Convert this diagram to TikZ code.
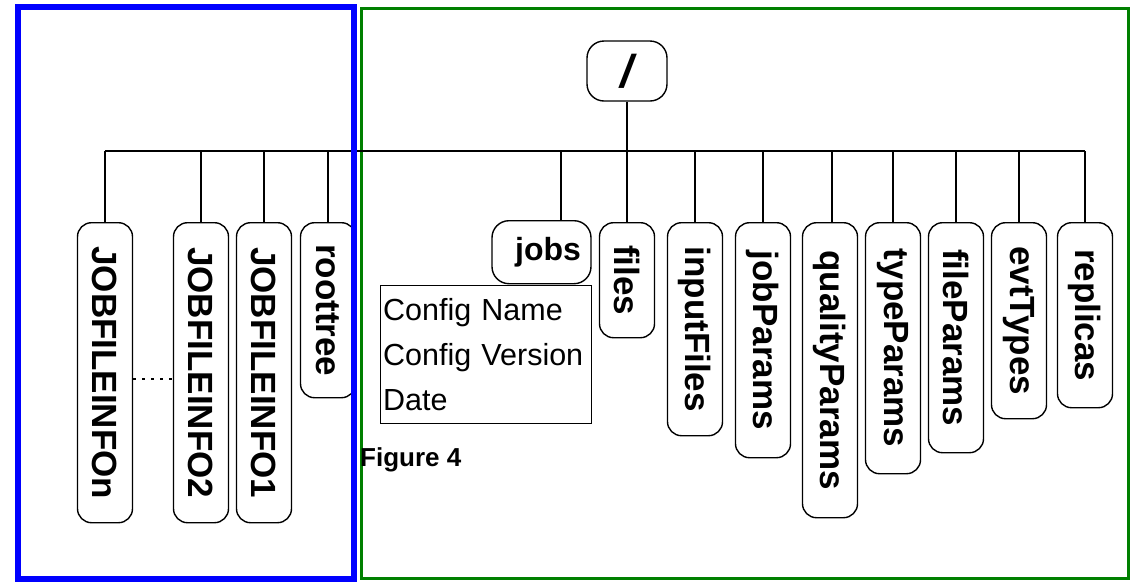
\documentclass[tikz,border=0pt]{standalone}
\usepackage{fontspec}
\setmainfont{Liberation Sans}
\begin{document}
\begin{tikzpicture}[x=1pt,y=-1pt,
  wire/.style={line width=1.5pt,black},
  leaf/.style={draw,line width=1.4pt,rounded corners=14pt,minimum width=55pt,
    inner sep=0pt,anchor=north,font=\fontsize{35}{40}\selectfont\bfseries},
  rootbox/.style={draw,line width=1.4pt,rounded corners=17pt,minimum width=80pt,
    minimum height=60pt,inner sep=0pt,font=\fontsize{46}{50}\selectfont\bfseries},
  infobox/.style={draw,line width=1.3pt,text width=206pt,minimum height=138pt,
    inner xsep=2.5pt,inner ysep=0pt,align=left,font=\fontsize{30.5}{45}\selectfont},
]
\useasboundingbox (0,0) rectangle (1135,582);
\fill[white] (0,0) rectangle (1135,582);

% green frame round the directory tree
\draw[line width=3pt,draw={rgb,255:red,0;green,128;blue,0}] (361.5,8) rectangle (1128.5,578.5);

% root of the tree
\node[rootbox] (root) at (627,71) {\raisebox{-4pt}{\itshape /}};

% children of the root
\newcommand\vtext[1]{\rotatebox{-90}{#1}}
\node[leaf,minimum height=300pt] (fileN)  at (105,222) {\vtext{JOBFILEINFOn}};
\node[leaf,minimum height=300pt] (file2)  at (201,222) {\vtext{JOBFILEINFO2}};
\node[leaf,minimum height=300pt] (file1)  at (264,222) {\vtext{JOBFILEINFO1}};
\node[leaf,minimum height=175pt] (rtree)  at (328,222) {\vtext{roottree}};
\node[leaf,minimum width=99pt,minimum height=63pt,rounded corners=17pt,
  font=\fontsize{32}{36}\selectfont\bfseries] (jobs) at (541.5,220) {\hspace*{13pt}jobs};
\node[leaf,minimum height=115pt] (files)  at (627,222) {\vtext{files}};
\node[leaf,minimum height=213pt] (inputF) at (695,222) {\vtext{inputFiles}};
\node[leaf,minimum height=235pt] (jobP)   at (763,222) {\vtext{jobParams}};
\node[leaf,minimum height=295pt] (qualP)  at (830,222) {\vtext{qualityParams}};
\node[leaf,minimum height=251pt] (typeP)  at (893,222) {\vtext{typeParams}};
\node[leaf,minimum height=230pt] (fileP)  at (956,222) {\vtext{fileParams}};
\node[leaf,minimum height=196pt] (evtT)   at (1019,222) {\vtext{evtTypes}};
\node[leaf,minimum height=185pt] (repl)   at (1085,222) {\vtext{replicas}};

% attribute list of the jobs node
\node[infobox,anchor=north west] (cfg) at (380,285)
  {Config Name\\Config Version\\Date};

% caption
\node[anchor=north west,inner sep=0pt,font=\fontsize{26}{30}\selectfont\bfseries] (cap) at (360,447) {Figure 4};

% bus and branches
\coordinate (busL) at (105,151);
\coordinate (busR) at (1085,151);
\coordinate (jobsIn) at (561,220);
\draw[wire] (busL) -- (busR);
\draw[wire] (root.south) -- (root.south |- busL);
\foreach \n in {fileN,file2,file1,rtree,files,inputF,jobP,typeP,fileP,evtT,repl}
  \draw[wire] (\n.north) -- (\n.north |- busL);
\draw[wire] (jobsIn) -- (jobsIn |- busL);
\coordinate (qualIn) at (832,222);
\draw[wire] (qualIn) -- (qualIn |- busL);

% elided members of the file series
\coordinate (gapY) at (0,379);
\draw[line width=1.2pt,dash pattern=on 3pt off 6pt] (fileN.east |- gapY) -- (file2.west |- gapY);

% blue frame round the file series
\draw[line width=6pt,draw={rgb,255:red,0;green,0;blue,255}] (18,7) rectangle (354,579);
\end{tikzpicture}
\end{document}
